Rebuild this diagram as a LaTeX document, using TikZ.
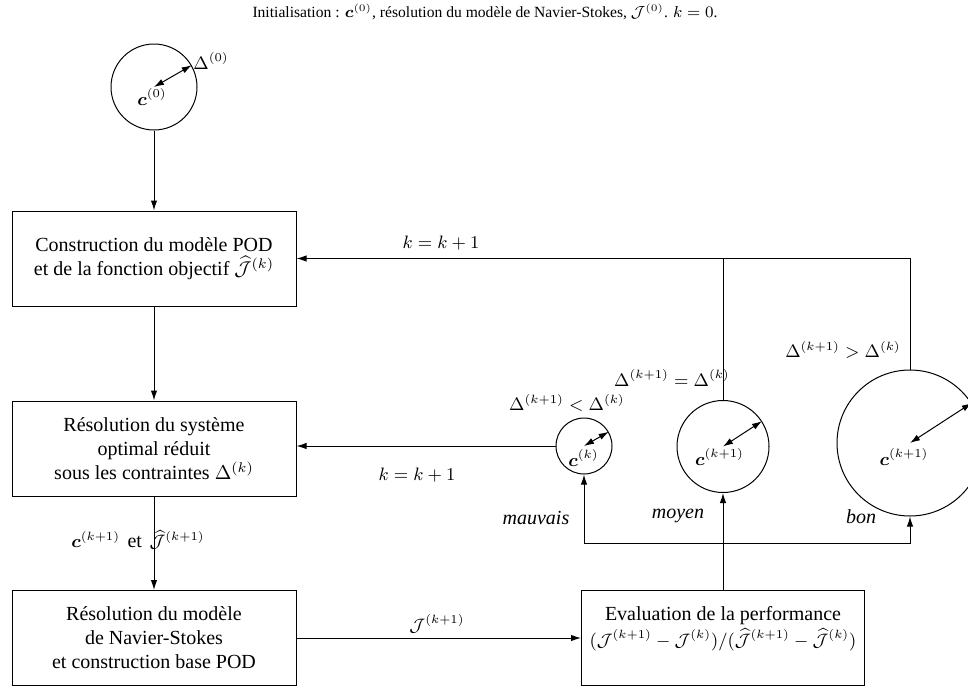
\documentclass[tikz,border=0pt]{standalone}
\usepackage{amsmath}
\usepackage{fontspec}
\setmainfont{Liberation Serif}[ItalicFont={Liberation Serif Italic},BoldFont={Liberation Serif Bold},BoldItalicFont={Liberation Serif Bold Italic}]
\usetikzlibrary{arrows.meta,calc}
\begin{document}
\begin{tikzpicture}[x=0.5pt,y=-0.5pt, line width=0.5pt,
  >={Latex[length=5pt,width=3.2pt]},
  font=\fontsize{10}{12}\selectfont,
  box/.style={draw, minimum width=142pt, minimum height=47.5pt, align=center, inner sep=0pt},
  circ/.style={draw, circle, inner sep=0pt},
  lbl/.style={inner sep=0pt},
  mlbl/.style={inner sep=0pt, font=\fontsize{9}{11}\selectfont},
  lblit/.style={inner sep=0pt, font=\fontsize{10}{12}\selectfont\itshape}]
\useasboundingbox (0,0) rectangle (968,686);
\clip (0,0) rectangle (968,686);

% title
\node[lbl, font=\fontsize{7.8}{9}\selectfont] (title) at (485,12) {Initialisation : $\boldsymbol{c}^{(0)}$, résolution du modèle de Navier-Stokes, $\mathcal{J}^{(0)}$. $k=0$.};

% boxes
\node[box] (b1) at (154,258.5) {Construction du modèle POD\\et de la fonction objectif $\widehat{\mathcal{J}}^{(k)}$};
\node[box] (b2) at (154,448.5) {Résolution du système\\optimal réduit\\sous les contraintes $\Delta^{(k)}$};
\node[box] (b3) at (154,638) {Résolution du modèle\\de Navier-Stokes\\et construction base POD};
\node[box, minimum width=141.5pt] (b4) at (723,638) {Evaluation de la performance\\[1pt]{\fontsize{9}{11}\selectfont$(\mathcal{J}^{(k+1)}-\mathcal{J}^{(k)})/(\widehat{\mathcal{J}}^{(k+1)}-\widehat{\mathcal{J}}^{(k)})$}\\\mbox{}};

% circles
\node[circ, minimum size=43pt] (c0) at (154,87) {};
\node[circ, minimum size=28pt] (mv) at (584,446) {};
\node[circ, minimum size=46pt] (my) at (723,446.5) {};
\node[circ, minimum size=73pt] (bn) at (910,443) {};

% circle contents
\node[mlbl] (lc0) at (152,97) {$\boldsymbol{c}^{(0)}$};
\node[mlbl] (lmv) at (583.5,458) {$\boldsymbol{c}^{(k)}$};
\node[mlbl] (lmy) at (719.5,457) {$\boldsymbol{c}^{(k+1)}$};
\node[mlbl] (lbn) at (904,457) {$\boldsymbol{c}^{(k+1)}$};
\draw[<->] (c0.center) -- (c0.30);
\draw[<->] (mv.center) -- (mv.30);
\draw[<->] (my.center) -- (my.33);
\draw[<->] (bn.center) -- (bn.33);

% labels
\node[mlbl] (d0) at (211,61) {$\Delta^{(0)}$};
\node[mlbl] (dlt) at (567,403) {$\Delta^{(k+1)} < \Delta^{(k)}$};
\node[mlbl] (deq) at (672,378) {$\Delta^{(k+1)} = \Delta^{(k)}$};
\node[mlbl] (dgt) at (843,350) {$\Delta^{(k+1)} > \Delta^{(k)}$};
\node[mlbl, font=\fontsize{9.5}{11}\selectfont] (k1) at (441,243) {$k=k+1$};
\node[mlbl, font=\fontsize{9.5}{11}\selectfont] (k2) at (417,475) {$k=k+1$};
\node[lblit] (lm) at (536,518) {mauvais};
\node[lblit] (ly) at (678,516) {moyen};
\node[lblit] (lb) at (861,517) {bon};
\node[mlbl] (lj) at (437,624) {$\mathcal{J}^{(k+1)}$};
\node[mlbl] (lcj) at (138,540) {$\boldsymbol{c}^{(k+1)}$\ \,{\fontsize{10}{12}\selectfont et}\ \,$\widehat{\mathcal{J}}^{(k+1)}$};

% connectors
\draw[->] (c0.south) -- (b1.north);
\draw[->] (b1.south) -- (b2.north);
\draw[->] (b2.south) -- (b3.north);
\draw[->] (b3.east) -- (b4.west);
\draw[->] (mv.west) -- (mv.west -| b2.east);
\draw[->] (bn.north) |- (b1.east);
\draw (my.north) -- (my.north |- b1.east);
\draw[->] (b4.north) -- (my.south);
\coordinate (br) at (723,543);
\draw[->] (br) -| (mv.south);
\draw[->] (br) -| (bn.south);
\end{tikzpicture}
\end{document}
